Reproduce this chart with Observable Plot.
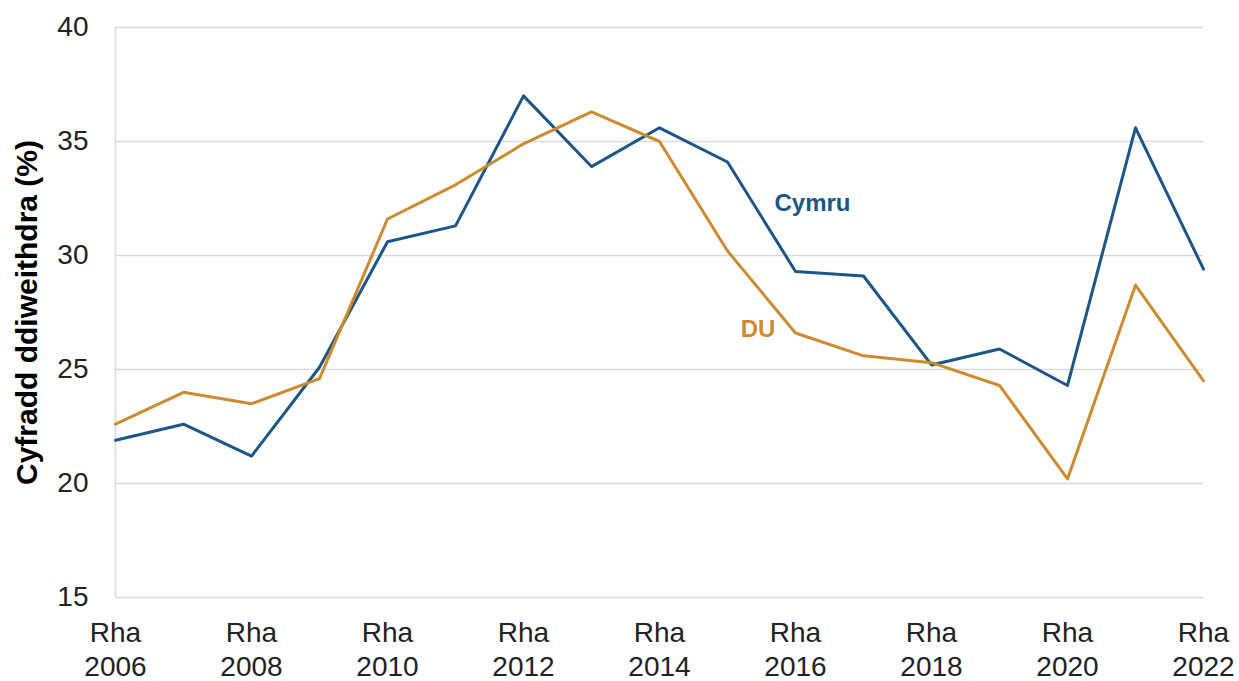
<!DOCTYPE html>
<html>
<head>
<meta charset="utf-8">
<script src="https://cdn.jsdelivr.net/npm/d3@7"></script>
<script src="https://cdn.jsdelivr.net/npm/@observablehq/plot@0.6"></script>
<style>
  html, body { margin: 0; padding: 0; background: #fff; }
  #chart svg { font-family: "Liberation Sans", Arial, sans-serif; }
  #chart [aria-label="y-axis label"] text { font-weight: bold; fill: #000; font-size: 30px; }
</style>
</head>
<body>
<div id="chart"></div>
<script>
const years = [2006, 2007, 2008, 2009, 2010, 2011, 2012, 2013, 2014, 2015, 2016, 2017, 2018, 2019, 2020, 2021, 2022];
const cymru = [21.9, 22.6, 21.2, 25.1, 30.6, 31.3, 37.0, 33.9, 35.6, 34.1, 29.3, 29.1, 25.2, 25.9, 24.3, 35.6, 29.4];
const du    = [22.6, 24.0, 23.5, 24.6, 31.6, 33.1, 34.9, 36.3, 35.0, 30.2, 26.6, 25.6, 25.3, 24.3, 20.2, 28.7, 24.5];
const xTicks = [2006, 2008, 2010, 2012, 2014, 2016, 2018, 2020, 2022];
const yTicks = [15, 20, 25, 30, 35, 40];
const seriesNames = ["Cymru", "DU"];
const seriesColors = ["#1c5688", "#cf8a30"];
const labelYears = [2016.25, 2015.45];
const labelValues = [32.3, 26.75];
const yTitle = "Cyfradd ddiweithdra (%)";

const rows = [];
years.forEach((y, i) => {
  rows.push({year: y, value: cymru[i], series: seriesNames[0]});
  rows.push({year: y, value: du[i], series: seriesNames[1]});
});
const labels = seriesNames.map((s, i) => ({series: s, year: labelYears[i], value: labelValues[i]}));

const chart = Plot.plot({
  width: 1239,
  height: 681,
  marginLeft: 115,
  marginRight: 36,
  marginTop: 27,
  marginBottom: 84,
  style: {fontFamily: "Liberation Sans, Arial, sans-serif", fontSize: "28px", color: "#000", background: "#fff"},
  x: {domain: [2006, 2022], type: "linear"},
  y: {domain: [15, 40]},
  color: {domain: seriesNames, range: seriesColors},
  marks: [
    Plot.gridY(yTicks, {stroke: "#d9d9d9", strokeOpacity: 1, strokeWidth: 1.5}),
    Plot.ruleX([2006], {stroke: "#d9d9d9", strokeWidth: 1.5}),
    Plot.axisY({
      ticks: yTicks, tickSize: 0, tickPadding: 27, fontSize: 28, fill: "#222",
      label: yTitle, labelAnchor: "center", labelOffset: 100, labelArrow: "none"
    }),
    Plot.axisX({
      ticks: xTicks, tickSize: 0, tickPadding: 20, fontSize: 28, fill: "#222",
      tickFormat: d => `Rha\n${d}`, lineHeight: 1.22, label: null
    }),
    Plot.line(rows, {x: "year", y: "value", z: "series", stroke: "series", strokeWidth: 3}),
    Plot.text(labels, {x: "year", y: "value", text: "series", fill: "series", fontSize: 24, fontWeight: "bold"})
  ]
});
document.getElementById("chart").appendChild(chart);
</script>
</body>
</html>
